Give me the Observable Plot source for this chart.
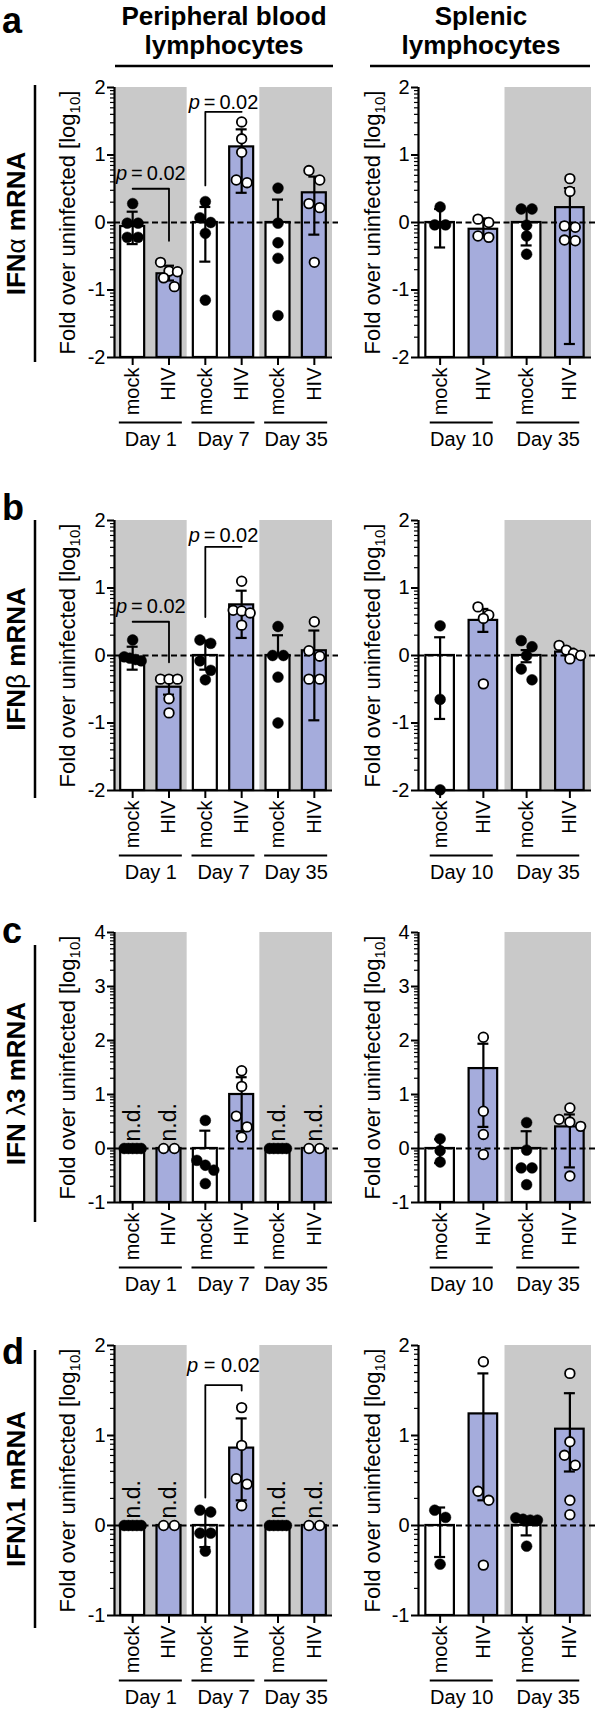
<!DOCTYPE html>
<html><head><meta charset="utf-8">
<script src="https://cdn.jsdelivr.net/npm/d3@7"></script>
<script src="https://cdn.jsdelivr.net/npm/@observablehq/plot@0.6"></script>
<style>
html,body{margin:0;padding:0;background:#fff;}
#root{position:relative;width:600px;height:1709px;overflow:hidden;background:#fff;}
</style></head><body><div id="root">
<svg id="deco" width="600" height="1709" style="position:absolute;left:0;top:0" font-family="'Liberation Sans', Arial, Helvetica, sans-serif">
  <g font-weight="bold" font-size="26" text-anchor="middle">
    <text x="224" y="25">Peripheral blood</text>
    <text x="224" y="54">lymphocytes</text>
    <text x="481" y="25">Splenic</text>
    <text x="481" y="54">lymphocytes</text>
  </g>
  <g stroke="#000" stroke-width="2.5">
    <line x1="115" x2="333" y1="66" y2="66"/>
    <line x1="370" x2="590" y1="66" y2="66"/>
    <line x1="35" x2="35" y1="85" y2="362"/>
    <line x1="35" x2="35" y1="520" y2="798"/>
    <line x1="35" x2="35" y1="945" y2="1222"/>
    <line x1="35" x2="35" y1="1350" y2="1628"/>
  </g>
  <g font-weight="bold" font-size="36">
    <text x="2" y="33">a</text>
    <text x="2" y="520">b</text>
    <text x="2" y="943">c</text>
    <text x="2" y="1364">d</text>
  </g>
  <g font-weight="bold" font-size="26" text-anchor="middle" dominant-baseline="central">
    <text transform="translate(16,223.5) rotate(-90)">IFN<tspan font-weight="normal">α</tspan> mRNA</text>
    <text transform="translate(16,659) rotate(-90)">IFN<tspan font-weight="normal">β</tspan> mRNA</text>
    <text transform="translate(16,1083.5) rotate(-90)">IFN <tspan font-weight="normal">λ</tspan>3 mRNA</text>
    <text transform="translate(16,1489) rotate(-90)">IFN<tspan font-weight="normal">λ</tspan>1 mRNA</text>
  </g>
</svg>
</div>
<script>
// ---------- categories & labels ----------
const pblCats = ["mock", "HIV", "mock", "HIV", "mock", "HIV"];
const pblDays = ["Day 1", "Day 7", "Day 35"];
const pblShaded = ["Day 1", "Day 35"];
const splCats = ["mock", "HIV", "mock", "HIV"];
const splDays = ["Day 10", "Day 35"];
const splShaded = ["Day 35"];
const yLabel = "Fold over uninfected [log10]";

// ---------- panel a: IFN-alpha ----------
const aPblMean = [-0.06, -0.76, 0.0, 1.12, 0.0, 0.44];
const aPblLo   = [-0.32, -0.86, -0.58, 0.44, 0.0, -0.18];
const aPblHi   = [0.16, -0.64, 0.23, 1.38, 0.34, 0.68];
const aPblPts  = [[0.28, -0.01, -0.01, -0.22, -0.22], [-0.59, -0.72, -0.73, -0.82, -0.95],
                  [0.31, 0.07, 0.0, -0.16, -1.15], [1.49, 1.24, 1.04, 0.63, 0.59],
                  [0.51, -0.01, -0.3, -0.53, -1.38], [0.77, 0.63, 0.28, 0.22, -0.59]];
const aPblBrackets = [
  {label: "p\u2009=\u20090.02", from: 0, to: 1, textY: 0.72, path: [[0, 0.5], [1, 0.5], [1, -0.27]]},
  {label: "p\u2009=\u20090.02", from: 2, to: 3, textY: 1.78, path: [[2, 0.55], [2, 1.64], [3, 1.64]]}
];
const aSplMean = [0.0, -0.1, 0.0, 0.22];
const aSplLo   = [-0.37, -0.22, -0.34, -1.8];
const aSplHi   = [0.2, 0.06, 0.2, 0.51];
const aSplPts  = [[0.23, -0.035, -0.035], [0.05, 0.0, -0.2, -0.22],
                  [0.2, 0.2, -0.04, -0.2, -0.47], [0.65, 0.46, -0.05, -0.07, -0.27, -0.26]];

// ---------- panel b: IFN-beta ----------
const bPblMean = [-0.03, -0.47, 0.0, 0.75, 0.0, 0.07];
const bPblLo   = [-0.21, -0.58, -0.21, 0.26, 0.0, -0.96];
const bPblHi   = [0.13, -0.31, 0.22, 0.96, 0.3, 0.37];
const bPblPts  = [[0.23, -0.02, -0.04, -0.06, -0.08], [-0.35, -0.35, -0.35, -0.64, -0.85],
                  [0.23, 0.18, -0.08, -0.22, -0.36], [1.1, 0.67, 0.66, 0.63, 0.45],
                  [0.43, 0.0, 0.0, -0.32, -1.0], [0.5, 0.07, -0.01, -0.35, -0.35]];
const bPblBrackets = [
  {label: "p\u2009=\u20090.02", from: 0, to: 1, textY: 0.72, path: [[0, 0.5], [1, 0.5], [1, -0.1]]},
  {label: "p\u2009=\u20090.02", from: 2, to: 3, textY: 1.78, path: [[2, 0.57], [2, 1.61], [3, 1.61]]}
];
const bSplMean = [0.0, 0.52, 0.0, 0.05];
const bSplLo   = [-0.94, 0.35, -0.1, 0.0];
const bSplHi   = [0.27, 0.69, 0.08, 0.1];
const bSplPts  = [[0.44, -0.65, -1.99], [0.72, 0.6, 0.55, -0.42],
                  [0.22, 0.13, 0.0, -0.2, -0.36], [0.15, 0.08, 0.03, 0.0, -0.05]];

// ---------- panel c: IFN-lambda3 ----------
const cPblMean = [0, 0, 0.0, 1.0, 0, 0];
const cPblLo   = [0, 0, 0.0, 0.32, 0, 0];
const cPblHi   = [0, 0, 0.33, 1.32, 0, 0];
const cPblNd   = [1, 1, 0, 0, 1, 1];
const cPblPts  = [[0, 0, 0, 0, 0], [0, 0], [0.52, -0.22, -0.31, -0.4, -0.65],
                  [1.44, 1.15, 0.6, 0.4, 0.21], [0, 0, 0, 0, 0], [0, 0]];
const cSplMean = [0.0, 1.48, 0.0, 0.4];
const cSplLo   = [-0.27, 0.4, 0.0, -0.35];
const cSplHi   = [0.17, 1.94, 0.32, 0.63];
const cSplPts  = [[0.18, -0.04, -0.25], [2.06, 0.69, 0.26, -0.11],
                  [0.48, -0.03, -0.36, -0.36, -0.67], [0.75, 0.54, 0.49, 0.41, -0.51]];

// ---------- panel d: IFN-lambda1 ----------
const dPblMean = [0, 0, 0.0, 0.86, 0, 0];
const dPblLo   = [0, 0, -0.24, 0.28, 0, 0];
const dPblHi   = [0, 0, 0.16, 1.19, 0, 0];
const dPblNd   = [1, 1, 0, 0, 1, 1];
const dPblPts  = [[0, 0, 0, 0, 0], [0, 0], [0.17, 0.15, -0.085, -0.085, -0.285],
                  [1.31, 0.89, 0.52, 0.46, 0.22], [0, 0, 0, 0, 0], [0, 0]];
const dPblBrackets = [
  {label: "p = 0.02", from: 2, to: 3, textY: 1.78, path: [[2, 0.31], [2, 1.56], [3, 1.56], [3, 1.5]]}
];
const dSplMean = [0.0, 1.24, 0.0, 1.07];
const dSplLo   = [-0.35, 0.28, -0.11, 0.6];
const dSplHi   = [0.2, 1.69, 0.06, 1.47];
const dSplPts  = [[0.17, 0.09, -0.43], [1.82, 0.38, 0.28, -0.44],
                  [0.085, 0.07, 0.06, 0.06, -0.23], [1.69, 0.93, 0.78, 0.67, 0.28, 0.12]];

// ---------- styling ----------
const FONT = "'Liberation Sans', Arial, Helvetica, sans-serif";
const BLUE = "#a5acdc";
const GREY = "#c9c9c9";
const FRAME_H = 270, M_TOP = 15, M_BOTTOM = 100;
const LEFT = {left: 40, width: 305, marginLeft: 74, marginRight: 7, xRange: [74, 292]};
const RIGHT = {left: 340, width: 260, marginLeft: 78, marginRight: 5, xRange: [78, 251]};

function makePlot(cfg) {
  const {cats, days, shaded, mean, lo, hi, pts, nd, brackets, yDomain, geo, top, labelDx} = cfg;
  const n = cats.length;
  const [y0, y1] = yDomain;
  const pxPerUnit = FRAME_H / (y1 - y0);
  const bandPx = (geo.xRange[1] - geo.xRange[0]) / n;
  const HALF = 0.33, CAP = 5.5 / bandPx, R = 5.4;
  const rows = cats.map((c, i) => ({i, cat: c, cx: i + 0.5, mean: mean[i], lo: lo[i], hi: hi[i],
    hiv: c === "HIV", nd: nd ? !!nd[i] : false}));
  const groups = days.map((d, g) => ({day: d, x1: g * 2, x2: g * 2 + 2, cx: g * 2 + 1, shaded: shaded.includes(d)}));
  const L = 31.5 / bandPx;

  // GraphPad-like scatter: rows of near-equal values spread symmetrically
  const dots = [];
  const maxSpread = bandPx * HALF * 2 - 7;
  rows.forEach(r => {
    const vals = pts[r.i].slice().sort((a, b) => b - a);
    let k = 0;
    while (k < vals.length) {
      let j = k;
      while (j + 1 < vals.length && (vals[k] - vals[j + 1]) * pxPerUnit < 2 * R) j++;
      const m = j - k + 1;
      const s = m > 1 ? Math.min(2 * R, maxSpread / (m - 1)) : 0;
      for (let q = k; q <= j; q++) dots.push({x: r.cx + ((q - k) - (m - 1) / 2) * s / bandPx, y: vals[q], hiv: r.hiv});
      k = j + 1;
    }
  });

  const caps = [];
  rows.forEach(r => {
    if (r.hi !== r.mean) caps.push({cx: r.cx, v: r.hi});
    if (r.lo !== r.mean) caps.push({cx: r.cx, v: r.lo});
  });

  const bracketPts = [];
  (brackets || []).forEach((b, bi) => b.path.forEach(([ci, v]) => bracketPts.push({id: bi, x: ci + 0.5, y: v})));

  const majors = d3.range(Math.ceil(y0), Math.floor(y1) + 1);
  const minors = [];
  for (let k = Math.floor(y0); k < y1; k++)
    for (let m = 2; m <= 9; m++) { const v = k + Math.log10(m); if (v > y0 && v < y1) minors.push(v); }

  const plot = Plot.plot({
    width: geo.width, height: M_TOP + FRAME_H + M_BOTTOM,
    marginTop: M_TOP, marginBottom: M_BOTTOM, marginLeft: geo.marginLeft, marginRight: geo.marginRight,
    x: {domain: [0, n], range: geo.xRange, axis: null},
    y: {domain: yDomain, axis: null},
    style: {fontFamily: FONT, fontSize: "20px", color: "#000", background: "transparent", overflow: "visible"},
    marks: [
      Plot.rect(groups.filter(g => g.shaded), {x1: "x1", x2: "x2", y1: y0, y2: y1, fill: GREY}),
      Plot.rectY(rows.filter(r => !r.hiv), {x1: d => d.cx - HALF, x2: d => d.cx + HALF, y1: y0, y2: "mean", fill: "#fff", stroke: "#000", strokeWidth: 2.2}),
      Plot.rectY(rows.filter(r => r.hiv), {x1: d => d.cx - HALF, x2: d => d.cx + HALF, y1: y0, y2: "mean", fill: BLUE, stroke: "#000", strokeWidth: 2.2}),
      Plot.ruleY([0], {stroke: "#000", strokeWidth: 1.8, strokeDasharray: "6,3.5"}),
      Plot.ruleX(rows.filter(r => r.hi !== r.lo), {x: "cx", y1: "lo", y2: "hi", stroke: "#000", strokeWidth: 2.2}),
      Plot.ruleY(caps, {x1: d => d.cx - CAP, x2: d => d.cx + CAP, y: "v", stroke: "#000", strokeWidth: 2.2}),
      Plot.dot(dots.filter(d => !d.hiv), {x: "x", y: "y", r: R, fill: "#000", stroke: "#000", strokeWidth: 0.5}),
      Plot.dot(dots.filter(d => d.hiv), {x: "x", y: "y", r: 4.8, fill: "#fff", stroke: "#000", strokeWidth: 1.8}),
      Plot.line(bracketPts, {x: "x", y: "y", z: "id", stroke: "#000", strokeWidth: 1.8}),
      Plot.text(brackets || [], {x: d => (d.from + d.to) / 2 + 0.5, y: "textY", text: "label", fontSize: 20}),
      Plot.text(rows.filter(r => r.nd), {x: "cx", y: () => 0, text: () => "n.d.", rotate: -90, textAnchor: "start", dy: -7, fontSize: 23}),
      // axes
      Plot.ruleX([0], {stroke: "#000", strokeWidth: 2.2}),
      Plot.ruleY([y0], {x1: 0, x2: n, stroke: "#000", strokeWidth: 2.2}),
      Plot.axisY(minors, {tickSize: 4, tickFormat: () => "", strokeWidth: 1.2, label: null}),
      Plot.axisY(majors, {tickSize: 7, tickPadding: 2, tickFormat: d => String(d), fontSize: 20, strokeWidth: 2, label: null}),
      Plot.axisX(rows.map(r => r.cx), {tickSize: 8, tickPadding: 2, tickRotate: -90, tickFormat: d => cats[Math.floor(d)], fontSize: 20, strokeWidth: 2, label: null}),
      Plot.text([yLabel], {frameAnchor: "left", rotate: -90, dx: labelDx, text: d => d, textAnchor: "middle", fontSize: 22}),
      // day groups
      Plot.ruleY(groups, {x1: d => d.cx - L, x2: d => d.cx + L, y: () => y0, dy: 65, stroke: "#000", strokeWidth: 2}),
      Plot.text(groups, {x: "cx", y: () => y0, dy: 82, text: "day", fontSize: 20})
    ]
  });

  d3.select(plot).selectAll("text").each(function () {
    const t = this.textContent;
    const el = d3.select(this);
    if (t === yLabel) {
      el.text(null);
      el.append("tspan").text("Fold over uninfected [log");
      el.append("tspan").attr("font-size", 15).attr("dy", 5).text("10");
      el.append("tspan").attr("dy", -5).text("]");
    } else if (/^p[\s\u2009]=/.test(t)) {
      el.text(null);
      el.append("tspan").attr("font-style", "italic").text("p");
      el.append("tspan").text(t.slice(1));
    }
  });

  plot.style.position = "absolute";
  plot.style.left = geo.left + "px";
  plot.style.top = top + "px";
  plot.style.maxWidth = "none";
  document.getElementById("root").appendChild(plot);
}

const PBL = {cats: pblCats, days: pblDays, shaded: pblShaded, geo: LEFT, labelDx: -47};
const SPL = {cats: splCats, days: splDays, shaded: splShaded, geo: RIGHT, labelDx: -46};

makePlot({...PBL, top: 72, yDomain: [-2, 2], mean: aPblMean, lo: aPblLo, hi: aPblHi, pts: aPblPts, brackets: aPblBrackets});
makePlot({...SPL, top: 72, yDomain: [-2, 2], mean: aSplMean, lo: aSplLo, hi: aSplHi, pts: aSplPts});
makePlot({...PBL, top: 505, yDomain: [-2, 2], mean: bPblMean, lo: bPblLo, hi: bPblHi, pts: bPblPts, brackets: bPblBrackets});
makePlot({...SPL, top: 505, yDomain: [-2, 2], mean: bSplMean, lo: bSplLo, hi: bSplHi, pts: bSplPts});
makePlot({...PBL, top: 917, yDomain: [-1, 4], mean: cPblMean, lo: cPblLo, hi: cPblHi, pts: cPblPts, nd: cPblNd});
makePlot({...SPL, top: 917, yDomain: [-1, 4], mean: cSplMean, lo: cSplLo, hi: cSplHi, pts: cSplPts});
makePlot({...PBL, top: 1330, yDomain: [-1, 2], mean: dPblMean, lo: dPblLo, hi: dPblHi, pts: dPblPts, nd: dPblNd, brackets: dPblBrackets});
makePlot({...SPL, top: 1330, yDomain: [-1, 2], mean: dSplMean, lo: dSplLo, hi: dSplHi, pts: dSplPts});
</script>
</body></html>
